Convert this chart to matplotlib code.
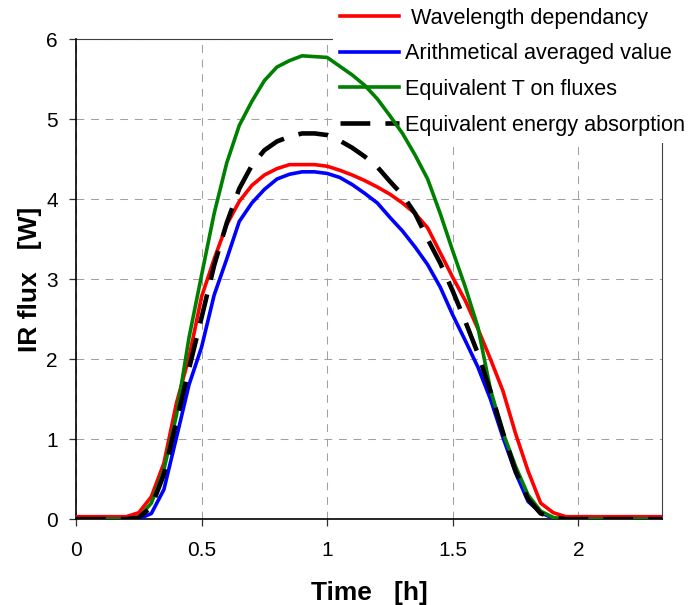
import numpy as np
import matplotlib
matplotlib.use('Agg')
import matplotlib.pyplot as plt

plt.rcParams['font.family'] = ['Liberation Sans', 'DejaVu Sans']

# time [h], sampled every 0.05 h plus the end point
time_h = [0.00, 0.05, 0.10, 0.15, 0.20, 0.25, 0.30, 0.35, 0.40, 0.45,
          0.50, 0.55, 0.60, 0.65, 0.70, 0.75, 0.80, 0.85, 0.90, 0.95,
          1.00, 1.05, 1.10, 1.15, 1.20, 1.25, 1.30, 1.35, 1.40, 1.45,
          1.50, 1.55, 1.60, 1.65, 1.70, 1.75, 1.80, 1.85, 1.90, 1.95,
          2.00, 2.05, 2.10, 2.15, 2.20, 2.25, 2.30, 2.333]

wavelength = [0.03, 0.03, 0.03, 0.03, 0.03, 0.08, 0.28, 0.70, 1.45, 2.02,
              2.78, 3.25, 3.68, 3.97, 4.17, 4.30, 4.38, 4.43, 4.43, 4.43,
              4.41, 4.36, 4.30, 4.23, 4.15, 4.06, 3.95, 3.82, 3.64, 3.33,
              3.02, 2.73, 2.38, 2.00, 1.60, 1.07, 0.60, 0.20, 0.08, 0.03,
              0.03, 0.03, 0.03, 0.03, 0.03, 0.03, 0.03, 0.03]

arithmetic = [0.00, 0.00, 0.00, 0.00, 0.00, 0.00, 0.07, 0.37, 1.02, 1.68,
              2.15, 2.80, 3.25, 3.72, 3.95, 4.12, 4.25, 4.31, 4.34, 4.34,
              4.32, 4.27, 4.18, 4.07, 3.95, 3.77, 3.60, 3.40, 3.18, 2.90,
              2.55, 2.23, 1.90, 1.50, 1.02, 0.58, 0.22, 0.08, 0.01, 0.00,
              0.00, 0.00, 0.00, 0.00, 0.00, 0.00, 0.00, 0.00]

equiv_T = [0.00, 0.00, 0.00, 0.00, 0.00, 0.02, 0.20, 0.62, 1.30, 2.27,
           3.05, 3.82, 4.45, 4.92, 5.22, 5.48, 5.65, 5.73, 5.79, 5.78,
           5.77, 5.66, 5.55, 5.42, 5.25, 5.04, 4.82, 4.55, 4.25, 3.82,
           3.35, 2.90, 2.40, 1.62, 1.08, 0.66, 0.30, 0.10, 0.02, 0.00,
           0.00, 0.00, 0.00, 0.00, 0.00, 0.00, 0.00, 0.00]

equiv_energy = [0.00, 0.00, 0.00, 0.00, 0.00, 0.02, 0.15, 0.56, 1.22, 1.88,
                2.52, 3.17, 3.70, 4.13, 4.42, 4.61, 4.72, 4.78, 4.82, 4.82,
                4.80, 4.73, 4.64, 4.53, 4.40, 4.22, 4.05, 3.82, 3.50, 3.20,
                2.85, 2.47, 2.07, 1.60, 1.08, 0.60, 0.25, 0.07, 0.02, 0.00,
                0.00, 0.00, 0.00, 0.00, 0.00, 0.00, 0.00, 0.00]

fig = plt.figure(figsize=(6.91, 6.05), dpi=100)
ax = fig.add_axes([0.110, 0.142, 0.848, 0.7935])
ax.set_axisbelow(True)

ax.plot(time_h, wavelength, color='#ff0000', lw=2.6, label=' Wavelength dependancy', zorder=3)
ax.plot(time_h, arithmetic, color='#0000ff', lw=2.6, label='Arithmetical averaged value', zorder=3)
ax.plot(time_h, equiv_T, color='#008000', lw=2.6, label='Equivalent T on fluxes', zorder=3)
ax.plot(time_h, equiv_energy, color='black', lw=3.3, dashes=[6.5, 3.3],
        label='Equivalent energy absorption', zorder=3)

ax.set_xlim(0, 2.333)
ax.set_ylim(0, 6)
ax.set_xticks([0, 0.5, 1, 1.5, 2])
ax.set_xticklabels(['0', '0.5', '1', '1.5', '2'])
ax.set_yticks([0, 1, 2, 3, 4, 5, 6])

ax.grid(True, color='#a0a0a0', lw=0.75, linestyle=(0, (7.5, 6.5)))
ax.tick_params(axis='both', direction='out', length=5, width=0.9,
               labelsize=15, color='#303030')
ax.tick_params(axis='x', pad=11)
ax.tick_params(axis='y', pad=8)

for s in ['left', 'bottom']:
    ax.spines[s].set_linewidth(1.2)
    ax.spines[s].set_color('black')
for s in ['top', 'right']:
    ax.spines[s].set_linewidth(0.8)
    ax.spines[s].set_color('#404040')
    ax.spines[s].set_zorder(0.8)

ax.set_xlabel('Time   [h]', fontsize=19, fontweight='bold', labelpad=15)
ax.set_ylabel('IR flux   [W]', fontsize=19, fontweight='bold', labelpad=3)

leg = ax.legend(loc='upper right', bbox_to_anchor=(1.003, 1.0),
                bbox_transform=fig.transFigure, fontsize=15.6,
                handlelength=2.7, handletextpad=0.3, labelspacing=0.68,
                borderpad=0.35, borderaxespad=0.0, frameon=True,
                fancybox=False)
leg.get_frame().set_facecolor('white')
leg.get_frame().set_edgecolor('none')
leg.get_frame().set_alpha(1.0)
leg.set_zorder(1)

fig.savefig('out.png', dpi=100)
